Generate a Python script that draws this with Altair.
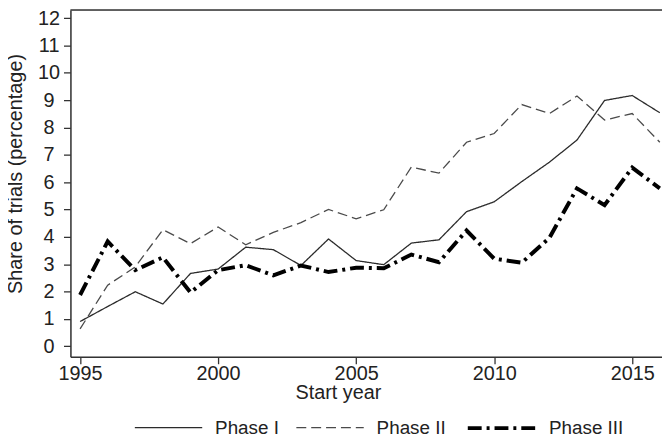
import altair as alt
import pandas as pd

years = list(range(1995, 2017))
phase1 = [0.90, 1.45, 1.99, 1.54, 2.66, 2.82, 3.62, 3.53, 2.95, 3.92, 3.13,
          2.98, 3.77, 3.89, 4.92, 5.28, 6.02, 6.73, 7.54, 8.99, 9.17, 8.54]
phase2 = [0.63, 2.23, 2.90, 4.26, 3.75, 4.36, 3.71, 4.16, 4.52, 5.00, 4.66,
          4.99, 6.55, 6.33, 7.46, 7.78, 8.84, 8.51, 9.15, 8.27, 8.51, 7.46]
phase3 = [1.87, 3.83, 2.78, 3.25, 1.96, 2.78, 2.96, 2.59, 2.95, 2.71, 2.87,
          2.85, 3.35, 3.07, 4.23, 3.20, 3.05, 3.96, 5.77, 5.16, 6.53, 5.77]
phases = ["Phase I", "Phase II", "Phase III"]
x_ticks = [1995, 2000, 2005, 2010, 2015]
y_ticks = list(range(0, 13))

rows = []
for name, vals in zip(phases, [phase1, phase2, phase3]):
    for yr, v in zip(years, vals):
        rows.append({"year": yr, "share": v, "phase": name})
df = pd.DataFrame(rows)

W, H = 597, 350
FONT = "Liberation Sans"
FS = 20
TXT = "#222222"
AX = "#333333"

x = alt.X("year:Q", scale=alt.Scale(domain=[1994.65, 2016.08], nice=False, zero=False),
          axis=alt.Axis(values=x_ticks, format="d", title="Start year", grid=False,
                        tickSize=7, labelPadding=10, labelBaseline="middle",
                        labelFontSize=FS, titleFontSize=FS, titleFontWeight="normal",
                        titleX=270, titleY=36, titleBaseline="middle", titleAlign="center",
                        domainColor=AX, tickColor=AX, domainWidth=1.5, tickWidth=1.3,
                        labelColor=TXT, titleColor=TXT, labelFont=FONT, titleFont=FONT))
y = alt.Y("share:Q", scale=alt.Scale(domain=[-0.39, 12.30], nice=False, zero=False),
          axis=alt.Axis(values=y_ticks, title="Share of trials (percentage)", grid=False,
                        tickSize=7, labelPadding=15, labelAlign="center", labelBaseline="middle",
                        labelFontSize=FS, titleFontSize=FS, titleFontWeight="normal",
                        titleX=-55, titleY=165, titleAngle=270, titleAlign="center",
                        titleBaseline="middle",
                        domainColor=AX, tickColor=AX, domainWidth=1.5, tickWidth=1.3,
                        labelColor=TXT, titleColor=TXT, labelFont=FONT, titleFont=FONT))


def leg():
    return alt.Legend(title=None, orient="none", legendX=64, legendY=386,
                      direction="horizontal", symbolType="stroke",
                      symbolSize=4624, labelFontSize=19, labelFont=FONT,
                      labelColor=TXT, labelOffset=12, columnPadding=14,
                      padding=0)


lines = alt.Chart(df).mark_line(strokeCap="butt", strokeJoin="miter").encode(
    x=x,
    y=y,
    color=alt.Color("phase:N", sort=phases,
                    scale=alt.Scale(domain=phases, range=["#2b2b2b", "#4a4a4a", "#000000"]),
                    legend=leg()),
    strokeDash=alt.StrokeDash("phase:N", sort=phases,
                              scale=alt.Scale(domain=phases, range=[[1, 0], [10, 5], [14, 5, 3, 5]]),
                              legend=leg()),
    strokeWidth=alt.StrokeWidth("phase:N", sort=phases,
                                scale=alt.Scale(type="ordinal", domain=phases, range=[1.3, 1.3, 4]),
                                legend=leg()),
)

top = alt.Chart(pd.DataFrame({"a": [0]})).mark_rule(color=AX, strokeWidth=1.5).encode(
    x=alt.value(0), x2=alt.value(W), y=alt.value(0)
)

chart = alt.layer(lines, top).properties(
    width=W, height=H,
    autosize=alt.AutoSizeParams(type="none"),
    padding={"left": 63, "top": 0, "right": 0, "bottom": 82},
).configure_view(stroke=None).configure(font=FONT)

chart.save("out.html", embed_options={"renderer": "svg", "actions": False})
